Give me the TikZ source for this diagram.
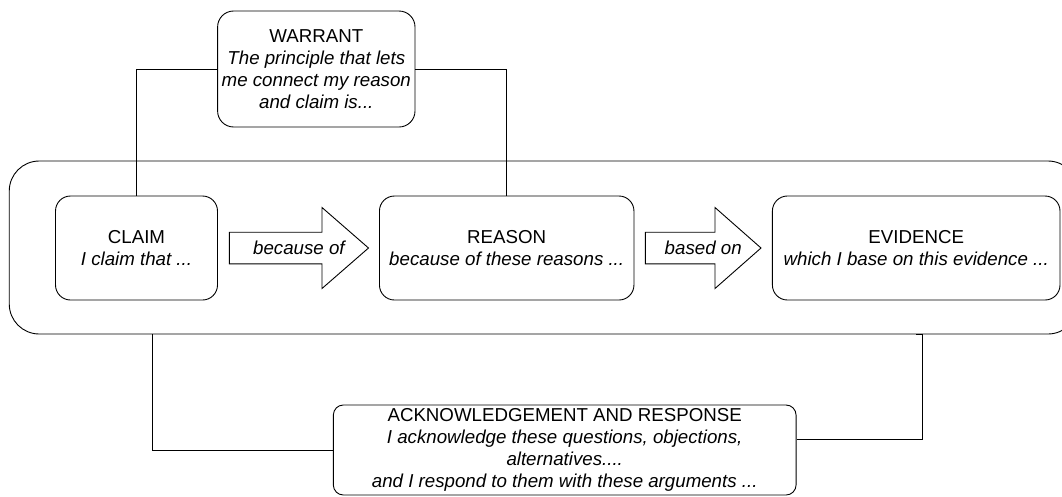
\documentclass[tikz,border=0pt]{standalone}
\usepackage{fontspec}
\setmainfont{Liberation Sans}
\begin{document}
\begin{tikzpicture}[x=1pt,y=-1pt,
  line width=0.9pt,
  txt/.style={font=\fontsize{18.7}{22}\selectfont, align=center},
  box/.style={draw, rounded corners=#1, inner sep=0pt, txt},
  box/.default=15pt,
  link/.style={draw, line width=0.9pt},
  bigarrow/.style={draw, line width=0.9pt, line join=miter}
]
\useasboundingbox (0,0) rectangle (1062,496);

% outer frame around the main chain
\node[box=30pt, minimum width=1068.7pt, minimum height=173pt] (frame) at (543.6,247.5) {};

% warrant
\node[box=16pt, minimum width=197.4pt, minimum height=116pt] (warrant) at (316.3,69)
  {WARRANT\\ \itshape The principle that lets\\ \itshape me connect my reason\\ \itshape and claim is...};

% main chain
\node[box, minimum width=162pt, minimum height=104pt] (claim) at (136.5,248)
  {CLAIM\\ \itshape I claim that ...};
\node[box, minimum width=254.5pt, minimum height=104pt] (reason) at (506.7,248)
  {REASON\\ \itshape because of these reasons ...};
\node[box, minimum width=287.6pt, minimum height=104pt] (evidence) at (916.2,248)
  {EVIDENCE\\ \itshape which I base on this evidence ...};

% block arrows between the boxes
\draw[bigarrow] (229.3,232.2) -- (322,232.2) -- (322,207.5) -- (368.5,248)
  -- (322,288.5) -- (322,263.8) -- (229.3,263.8) -- cycle;
\node[txt, font=\fontsize{18.7}{22}\selectfont\itshape] (because) at (298.9,248) {because of};
\draw[bigarrow] (645.3,232.2) -- (715,232.2) -- (715,207.5) -- (761,248)
  -- (715,288.5) -- (715,263.8) -- (645.3,263.8) -- cycle;
\node[txt, font=\fontsize{18.7}{22}\selectfont\itshape] (based) at (703.2,248) {based on};

% acknowledgement and response
\node[box=10pt, minimum width=462.7pt, minimum height=90pt] (ack) at (564.7,450)
  {ACKNOWLEDGEMENT AND RESPONSE\\
   \itshape I acknowledge these questions, objections,\\
   \itshape alternatives....\\
   \itshape and I respond to them with these arguments ...};

% connectors
\draw[link] (warrant.west) -| (claim.north);
\draw[link] (warrant.east) -| (reason.north);

\coordinate (fl) at (152,334);
\coordinate (fr) at (916,334.8);
\coordinate (ackR) at ([yshift=11pt]ack.east);
\draw[link] (fl) |- (ack.west);
\draw[link] (fr) -- ++(6.5,0) |- (ackR);
\end{tikzpicture}
\end{document}
